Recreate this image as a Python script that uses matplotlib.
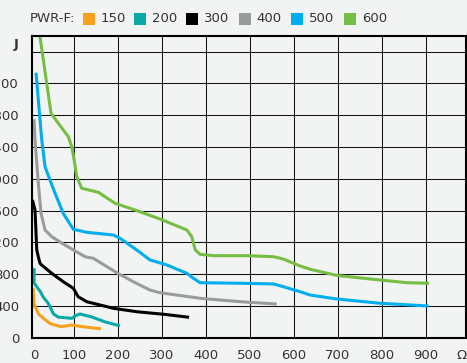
import matplotlib
matplotlib.use("Agg")
import matplotlib.pyplot as plt
from matplotlib.patches import Rectangle

# Energy curves per PWR-F model (x: resistance in Ω, y: energy in J)
series_names = ["150", "200", "300", "400", "500", "600"]
series_colors = ["#f7a21d", "#0aa9a8", "#000000", "#9a9b9d", "#00aeef", "#76be43"]

x_150 = [8, 10, 20, 30, 46, 70, 96, 120, 150, 162]
y_150 = [625, 420, 300, 250, 180, 140, 160, 140, 120, 115]

x_200 = [10, 10, 24, 31, 42, 54, 65, 96, 103, 114, 141, 171, 205]
y_200 = [875, 690, 580, 510, 434, 300, 260, 245, 274, 300, 262, 200, 150]

x_300 = [6, 12, 16, 19.5, 23.4, 27, 50, 76, 99, 110, 129.5, 190, 243, 304, 362]
y_300 = [1735, 1607, 1105, 1020, 937, 916, 811, 706, 623, 517, 454, 371, 328, 296, 258]

x_400 = [9.8, 12, 19.5, 25.7, 34.8, 50, 80, 125.7, 144.5, 197.7, 235, 273, 296, 387, 478, 561]
y_400 = [2749, 2488, 1944, 1566, 1356, 1272, 1167, 1020, 1000, 819, 706, 601, 567, 497, 454, 425]

x_500 = [14.3, 27.3, 34.8, 46, 57.5, 76, 99, 129.5, 190, 205, 243, 273, 311, 357, 372, 387,
         478, 554, 576, 614, 637, 698, 796, 906]
y_500 = [3335, 2488, 2152, 1985, 1818, 1566, 1365, 1327, 1293, 1252, 1105, 980, 917, 811, 748, 693,
         686, 677, 643, 580, 538, 488, 434, 400]

x_600 = [23, 48.4, 65, 87.7, 95.5, 99, 106.8, 118, 156, 171, 194, 239, 296, 357, 368, 376, 387,
         417, 493, 554, 576, 614, 637, 698, 796, 857, 907]
y_600 = [3800, 2824, 2698, 2530, 2404, 2300, 2027, 1881, 1830, 1775, 1692, 1608, 1494, 1356, 1272,
         1105, 1050, 1033, 1033, 1020, 991, 903, 862, 784, 727, 693, 686]

series_x = [x_150, x_200, x_300, x_400, x_500, x_600]
series_y = [y_150, y_200, y_300, y_400, y_500, y_600]

x_ticks = [100, 200, 300, 400, 500, 600, 700, 800, 900]
y_ticks = [0, 400, 800, 1200, 1600, 2000, 2400, 2800, 3200, 3600]
y_tick_labels = ["0", "400", "800", "1200", "1600", "2000", "2400", "2800", "3200", ""]
legend_title = "PWR-F:"
x_unit = "Ω"
y_unit = "J"

W, H = 467, 363
BG = "#f2f4f3"
TXT = "#333333"
FS = 9.5

fig = plt.figure(figsize=(W / 100, H / 100), dpi=100, facecolor=BG)
ax = fig.add_axes([31.7 / W, (H - 337.8) / H, (466 - 31.7) / W, 302.1 / H], facecolor=BG)

ax.set_xlim(4.5, 991)
ax.set_ylim(0, 3800)

for xs, ys, c in zip(series_x, series_y, series_colors):
    ax.plot(xs, ys, color=c, lw=2.2, solid_joinstyle="round", solid_capstyle="butt", zorder=3)

ax.set_xticks(x_ticks)
ax.set_yticks(y_ticks, y_tick_labels)
ax.set_xticks([10.9, 980], ["0", x_unit], minor=True)
ax.set_yticks([3708], [y_unit], minor=True)
for t in ax.get_yticklabels(minor=True):
    t.set_fontweight("bold")

ax.grid(True, which="major", color="#111111", lw=0.75, zorder=1)
ax.set_axisbelow(True)
ax.tick_params(which="both", length=0, labelsize=FS, labelcolor=TXT)
ax.tick_params(axis="y", which="both", pad=9.1)
ax.tick_params(axis="x", which="both", pad=8.0)

for s in ax.spines.values():
    s.set_linewidth(1.5)
    s.set_color("black")
    s.set_zorder(5)

# Legend row above the plot
ty = 1 - 18.8 / H
fig.text(30 / W, ty, legend_title, fontsize=FS, color=TXT, va="center", ha="left")
sq_left = [82.7, 134, 186, 239, 291, 344]
lb_left = [101, 152, 204, 256, 309, 362]
for name, c, sx, lx in zip(series_names, series_colors, sq_left, lb_left):
    fig.add_artist(Rectangle((sx / W, 1 - 25 / H), 12.3 / W, 12.3 / H,
                             transform=fig.transFigure, facecolor=c, edgecolor="none"))
    fig.text(lx / W, ty, name, fontsize=FS, color=TXT, va="center", ha="left")

fig.savefig("out.png", dpi=100, facecolor=BG)
